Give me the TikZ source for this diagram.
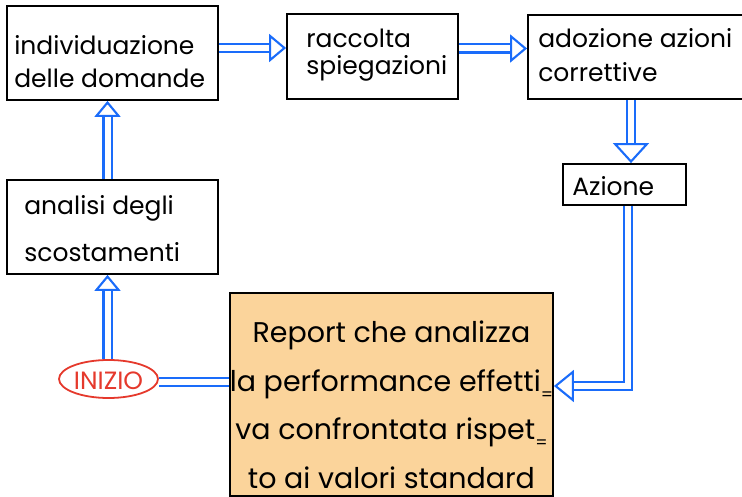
\documentclass[tikz,border=0pt]{standalone}
\usepackage{fontspec}
\setmainfont{Poppins}
\usetikzlibrary{arrows.meta,calc,shapes.geometric}

\definecolor{flowblue}{HTML}{1A6CFA}
\definecolor{reportfill}{HTML}{FBD49B}
\definecolor{startred}{HTML}{E5392C}

\newcommand\hyph{\raisebox{-9pt}{\fontsize{17}{17}\selectfont=}}

% the base anchor of a multi-line text node sits on its last line
\tikzset{
  x=1pt, y=-1pt,
  box/.style={draw=black, line width=1.8pt, fill=white, inner sep=0pt},
  lbl/.style={inner sep=0pt, anchor=base west, align=left,
    font=\fontsize{25}{#1}\selectfont},
  lbl/.default=33,
  dbl/.style={draw=flowblue, line width=2.1pt, double=white,
    double distance=6pt, line join=miter},
  headst/.style={draw=flowblue, line width=2.1pt,
    -{Triangle[fill=white, length=#1]}},
  headst/.default={17pt, width=28pt},
}

\begin{document}
\begin{tikzpicture}
\useasboundingbox (0,0) rectangle (742,497);

% process boxes
\node[box, minimum width=211pt, minimum height=94pt] (b1) at (112.5,53) {};
\node[box, minimum width=171pt, minimum height=85pt] (b2) at (372.5,56.5) {};
\node[box, minimum width=222pt, minimum height=84pt] (b3) at (639,57) {};
\node[box, minimum width=123pt, minimum height=41pt] (az) at (624.5,184.5) {};
\node[box, minimum width=211pt, minimum height=94pt] (an) at (112.5,227) {};
\node[box, fill=reportfill, minimum width=323pt, minimum height=203pt] (rep)
  at (391.5,394.5) {};
\node[ellipse, draw=startred, line width=1.8pt, minimum width=99pt,
  minimum height=38pt, inner sep=0pt] (ini) at (108.5,379) {};

% box texts
\node[lbl] (t1) at ([xshift=8pt, yshift=-82pt]b1.north west)
  {individuazione\\delle domande};
\node[lbl=27] (t2) at ([xshift=20pt, yshift=-61pt]b2.north west)
  {raccolta\\spiegazioni};
\node[lbl=34] (t3) at ([xshift=11pt, yshift=-67pt]b3.north west)
  {adozione azioni\\correttive};
\node[lbl] (ta) at ([xshift=10pt, yshift=-32pt]az.north west) {Azione};
\node[lbl=47] (tn) at ([xshift=18pt, yshift=-82pt]an.north west)
  {analisi degli\\scostamenti};
\node[inner sep=0pt, anchor=base, align=center,
  font=\fontsize{28.5}{48.5}\selectfont] (tr) at ([yshift=-196pt]rep.north)
  {Report che analizza\\la performance effetti\hyph\\va confrontata rispet\hyph\\to ai valori standard};
\node[inner sep=0pt, anchor=base, text=startred,
  font=\fontsize{25}{25}\selectfont] (ti) at ([yshift=-10pt]ini.center) {INIZIO};

% connectors
\coordinate (p12) at ([yshift=5pt]b1.east);
\draw[dbl, shorten >=17pt] (p12) -- (p12 -| b2.west);
\draw[headst] ($(p12 -| b2.west)!17pt!(p12)$) -- (p12 -| b2.west);

\coordinate (p23) at ([yshift=8pt]b2.east);
\draw[dbl, shorten >=17pt] (p23) -- (p23 -| b3.west);
\draw[headst] ($(p23 -| b3.west)!17pt!(p23)$) -- (p23 -| b3.west);

\coordinate (p3a) at ([xshift=-8pt]b3.south);
\draw[dbl, shorten >=20pt] (p3a) -- (p3a |- az.north);
\draw[headst={20pt, width=36pt}] ($(p3a |- az.north)!20pt!(p3a)$) -- (p3a |- az.north);

\coordinate (pa) at ([xshift=3.5pt]az.south);
\coordinate (pr) at ([yshift=8.5pt]rep.east);
\draw[dbl, shorten >=20pt] (pa) |- (pr);
\draw[headst={20pt, width=32pt}] ([xshift=20pt]pr) -- (pr);

\coordinate (pi) at ([yshift=-3pt]ini.east);
\draw[dbl] (pi) -- (pi -| rep.west);

\coordinate (pia) at ([xshift=-1pt]ini.north);
\draw[dbl, shorten >=16pt] (pia) -- (pia |- an.south);
\draw[headst={16pt, width=26pt}] ($(pia |- an.south)!16pt!(pia)$) -- (pia |- an.south);

\coordinate (pab) at ([xshift=-5pt]an.north);
\draw[dbl, shorten >=16pt] (pab) -- (pab |- b1.south);
\draw[headst={16pt, width=26pt}] ($(pab |- b1.south)!16pt!(pab)$) -- (pab |- b1.south);
\end{tikzpicture}
\end{document}
